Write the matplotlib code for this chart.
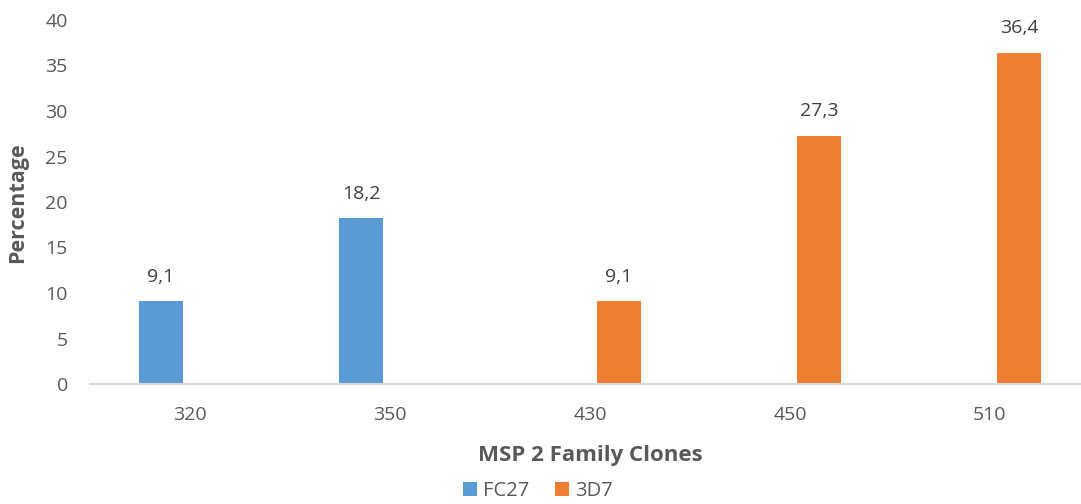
import numpy as np
import matplotlib
matplotlib.use("Agg")
import matplotlib.pyplot as plt

plt.rcParams['font.family'] = ['Open Sans', 'DejaVu Sans']

# data
categories = ["320", "350", "430", "450", "510"]
fc27 = [9.1, 18.2, 0, 0, 0]
d3d7 = [0, 0, 9.1, 27.3, 36.4]
series_names = ["FC27", "3D7"]
colors = ["#5b9bd5", "#ed7d31"]
text_col = "#595959"

fig = plt.figure(figsize=(10.81, 5.04), dpi=100)
ax = fig.add_axes([90 / 1081, 1 - 384 / 504, 1000 / 1081, (384 - 20) / 504])

x = np.arange(len(categories))
w = 0.22
off = 0.145
b1 = ax.bar(x - off, fc27, w, color=colors[0], label=series_names[0])
b2 = ax.bar(x + off, d3d7, w, color=colors[1], label=series_names[1])

# value labels (only non-zero)
for bars, vals in [(b1, fc27), (b2, d3d7)]:
    for b, v in zip(bars, vals):
        if v == 0:
            continue
        ax.annotate(f"{v:.1f}".replace(".", ","), (b.get_x() + b.get_width() / 2, v),
                    xytext=(0, 11), textcoords="offset points", ha="center", va="bottom",
                    fontsize=14, color="#404040")

ax.set_xlim(-0.5, 4.5)
ax.set_ylim(0, 40)
ax.set_yticks(range(0, 41, 5))
ax.set_xticks(x)
ax.set_xticklabels(categories)
ax.tick_params(axis="both", length=0, labelsize=14, colors=text_col)
ax.tick_params(axis="x", pad=16)
ax.tick_params(axis="y", pad=16)

for s in ["top", "right", "left"]:
    ax.spines[s].set_visible(False)
ax.spines["bottom"].set_color("#d9d9d9")
ax.spines["bottom"].set_linewidth(1.5)

fig.text(18 / 1081, 1 - 203 / 504, "Percentage", rotation=90, ha="center", va="center",
         fontsize=15.5, fontweight="bold", color=text_col)
fig.text(590 / 1081, 1 - 455 / 504, "MSP 2 Family Clones", ha="center", va="center",
         fontsize=16, fontweight="bold", color=text_col)

fig.legend(handles=[b1, b2], loc="center", bbox_to_anchor=(538 / 1081, 1 - 491 / 504),
           ncol=2, frameon=False, fontsize=14.5, handlelength=0.7, handleheight=0.7,
           handletextpad=0.3, columnspacing=1.3, labelcolor=text_col,
           borderpad=0, borderaxespad=0)

fig.savefig("out.png", dpi=100)
